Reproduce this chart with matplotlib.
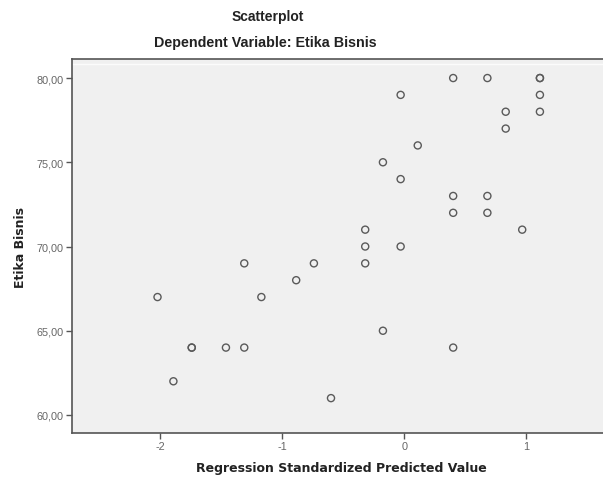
"""
plot.py
─────────────────────────
SPSS-style regression scatterplot: observed Etika Bisnis against the
regression standardized predicted value.
"""

from __future__ import annotations

import matplotlib.pyplot as plt
from matplotlib.ticker import FuncFormatter

plt.rcParams["font.family"] = ["Liberation Sans", "DejaVu Sans"]

# ── Data ──────────────────────────────────────────────────────────────────────
PREDICTED = [
    -2.02, -1.89, -1.74, -1.74, -1.46, -1.31, -1.31, -1.17, -0.885, -0.74,
    -0.60, -0.32, -0.32, -0.32, -0.175, -0.175, -0.03, -0.03, -0.03, 0.11,
    0.40, 0.40, 0.40, 0.40, 0.68, 0.68, 0.68, 0.83, 0.83, 0.965,
    1.11, 1.11, 1.11, 1.11,
]
ETIKA = [
    67, 62, 64, 64, 64, 64, 69, 67, 68, 69,
    61, 69, 70, 71, 65, 75, 70, 74, 79, 76,
    64, 72, 73, 80, 72, 73, 80, 77, 78, 71,
    78, 79, 80, 80,
]

X_TICKS = [-2, -1, 0, 1]
Y_TICKS = [60, 65, 70, 75, 80]

TITLE = "Scatterplot"
SUBTITLE = "Dependent Variable: Etika Bisnis"
X_LABEL = "Regression Standardized Predicted Value"
Y_LABEL = "Etika Bisnis"

# ── Visual constants ──────────────────────────────────────────────────────────
PANEL_BG = "#F0F0F0"
SPINE = "#555555"
MARKER_EDGE = "#5A5A5A"
TICK_TEXT = "#666666"
TEXT = "#222222"
LABEL_FONT = ["DejaVu Sans"]


def main() -> None:
    fig = plt.figure(figsize=(6.03, 4.81), dpi=100)
    # panel runs a little past the right edge, as in the cropped original
    ax = fig.add_axes([72 / 603, 1 - 434 / 481, 540 / 603, 374 / 481])
    ax.set_facecolor(PANEL_BG)

    ax.scatter(PREDICTED, ETIKA, s=26, facecolors="none",
               edgecolors=MARKER_EDGE, linewidths=1.0, zorder=3)

    ax.set_xlim(-2.72, 1.70)
    ax.set_ylim(58.93, 81.13)
    ax.axhline(80.83, color="white", linewidth=1.0, alpha=0.8, zorder=1)
    ax.set_xticks(X_TICKS)
    ax.set_yticks(Y_TICKS)
    ax.xaxis.set_major_formatter(FuncFormatter(lambda v, _: f"{v:.0f}"))
    ax.yaxis.set_major_formatter(
        FuncFormatter(lambda v, _: f"{v:.2f}".replace(".", ","))
    )
    ax.tick_params(axis="both", direction="out", length=4, width=1.0,
                   color=SPINE, labelsize=7.8, labelcolor=TICK_TEXT, pad=2)

    for side in ("left", "bottom", "top"):
        ax.spines[side].set_color(SPINE)
        ax.spines[side].set_linewidth(1.2)
    ax.spines["right"].set_visible(False)

    fig.text((72 + 531 / 2 + 4) / 603, 1 - 469 / 481, X_LABEL,
             ha="center", va="center", fontsize=9, fontweight="bold",
             color=TEXT, family=LABEL_FONT)
    fig.text(21 / 603, 1 - 248 / 481, Y_LABEL, ha="center", va="center",
             rotation=90, fontsize=9, fontweight="bold", color=TEXT,
             family=LABEL_FONT)

    fig.text(268 / 603, 1 - 17 / 481, TITLE, ha="center", va="center",
             fontsize=10, fontweight="bold", color=TEXT)
    fig.text(265 / 603, 1 - 43 / 481, SUBTITLE, ha="center", va="center",
             fontsize=10.3, fontweight="bold", color=TEXT)

    fig.savefig("out.png", dpi=100)


if __name__ == "__main__":
    main()
